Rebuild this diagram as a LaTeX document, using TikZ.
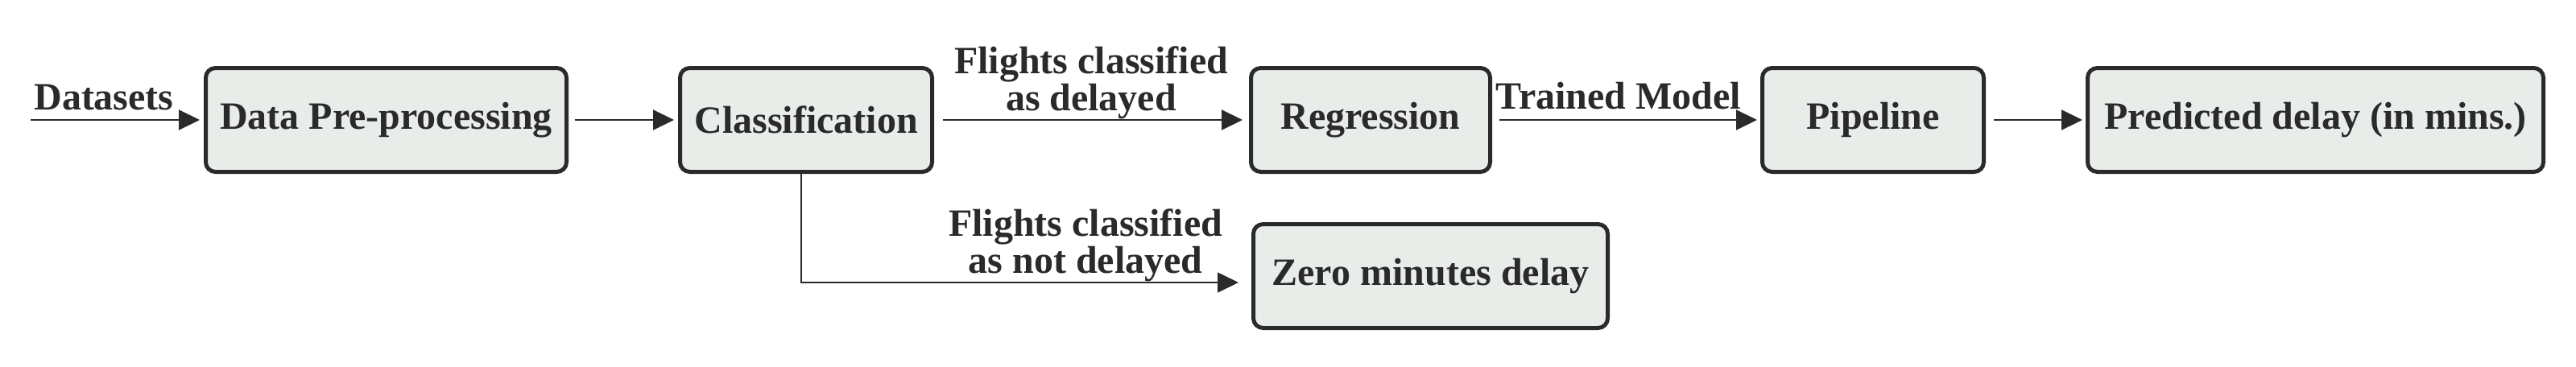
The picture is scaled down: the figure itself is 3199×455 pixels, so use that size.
\documentclass[tikz,border=0pt]{standalone}
\usepackage{fontspec}
\setmainfont{Liberation Serif}
\usetikzlibrary{arrows.meta}
\definecolor{ink}{RGB}{42,42,42}
\definecolor{boxfill}{RGB}{233,237,234}
\begin{document}
\begin{tikzpicture}[x=0.5pt,y=-0.5pt,
  stepbox/.style={draw=ink, fill=boxfill, line width=2.5pt, rounded corners=6pt,
    minimum height=64.5pt, inner sep=0pt, text=ink,
    font=\fontsize{24}{21.5}\selectfont\bfseries},
  lbl/.style={inner sep=0pt, text=ink, align=center,
    font=\fontsize{24}{21.5}\selectfont\bfseries},
  arr/.style={draw=ink, line width=1pt, -{Triangle[length=13pt,width=12.5pt]}},
  thinarr/.style={draw=ink, line width=0.8pt, -{Triangle[length=13pt,width=12.5pt]}}]
\useasboundingbox (0,0) rectangle (3199,455);
\fill[white] (0,0) rectangle (3199,455);
\node[stepbox, minimum width=224pt]   (dp)   at (479.5,149) {Data Pre-processing};
\node[stepbox, minimum width=156.5pt] (cls)  at (1001,149)  {Classification};
\node[stepbox, minimum width=148.5pt] (reg)  at (1702,149)  {Regression};
\node[stepbox, minimum width=137.5pt] (pipe) at (2326,149)  {Pipeline};
\node[stepbox, minimum width=283pt]   (pred) at (2875.5,149) {Predicted delay (in mins.)};
\node[stepbox, minimum width=220pt]   (zero) at (1776.5,343) {Zero minutes delay};
\coordinate (start) at (38,149);
\coordinate (bend) at (995,351);
\node[lbl, anchor=base]  (ds)  at (129,136)  {Datasets};
\node[lbl, anchor=north] (ld)  at (1355,57)  {Flights classified\\as delayed};
\node[lbl, anchor=north] (lnd) at (1348,259) {Flights classified\\as not delayed};
\node[lbl, anchor=base]  (tm)  at (2010,135) {Trained Model};
\draw[arr, shorten >=2.5pt] (start) -- (dp);
\draw[arr, shorten <=4pt, shorten >=2.5pt] (dp) -- (cls);
\draw[arr, shorten <=5.5pt, shorten >=4pt] (cls) -- (reg);
\draw[arr, shorten <=4.5pt, shorten >=2pt] (reg) -- (pipe);
\draw[arr, shorten <=5pt, shorten >=2pt] (pipe) -- (pred);
\draw[thinarr, shorten >=8pt] (cls.south -| bend) -- (bend) -- (bend -| zero.west);
\end{tikzpicture}
\end{document}
